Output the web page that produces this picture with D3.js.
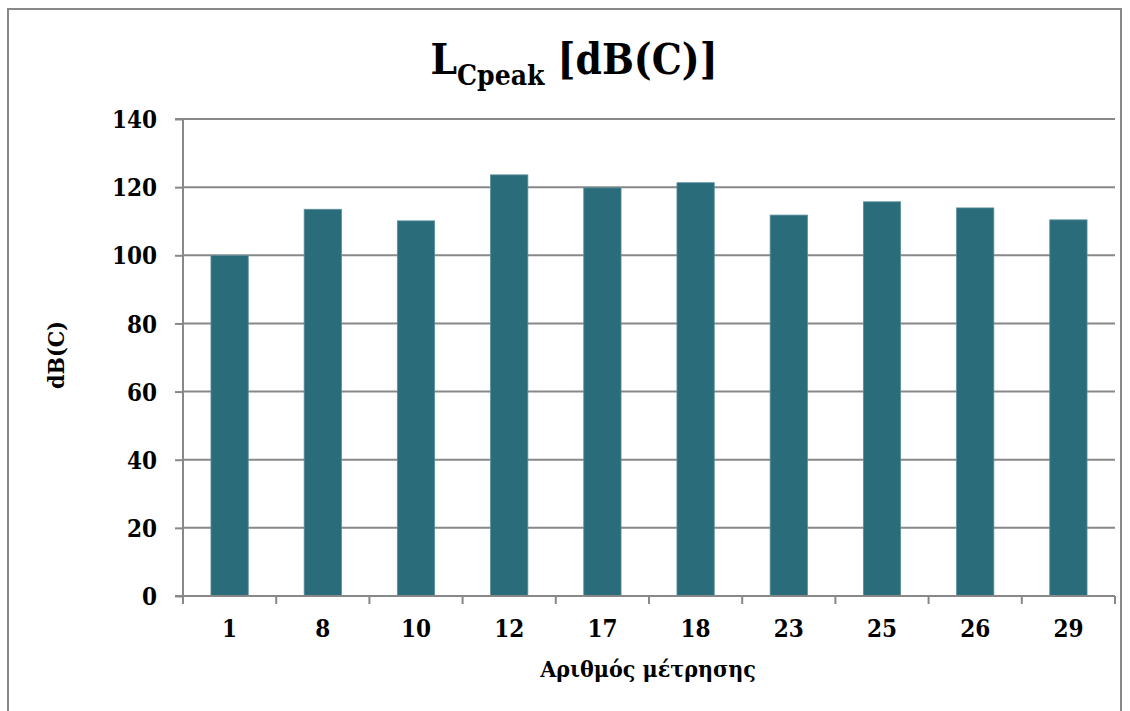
<!DOCTYPE html>
<html>
<head>
<meta charset="utf-8">
<script src="https://cdn.jsdelivr.net/npm/d3@7"></script>
<style>
  html, body { margin: 0; padding: 0; background: #fff; }
  svg { display: block; }
  text { font-family: "DejaVu Serif Condensed", "DejaVu Serif", serif; font-stretch: condensed; font-weight: bold; fill: #000; }
</style>
</head>
<body>
<svg id="chart" width="1130" height="711"></svg>
<script>
// Measurement numbers and their peak C-weighted levels
const categories = ["1", "8", "10", "12", "17", "18", "23", "25", "26", "29"];
const values = [99.9, 113.5, 110.1, 123.6, 119.8, 121.3, 111.8, 115.7, 113.9, 110.4];
const yTicks = [0, 20, 40, 60, 80, 100, 120, 140];

const svg = d3.select("#chart");
const W = 1130, H = 711;
const margin = { left: 183, right: 15, top: 119, bottom: 115 };
const plotW = W - margin.left - margin.right;
const plotH = H - margin.top - margin.bottom;

// outer frame
svg.append("rect")
  .attr("x", 8).attr("y", 9).attr("width", 1113).attr("height", 720)
  .attr("fill", "none").attr("stroke", "#888").attr("stroke-width", 2);

const g = svg.append("g").attr("transform", `translate(${margin.left},${margin.top})`);

const x = d3.scaleBand().domain(categories).range([0, plotW]).paddingInner(0.6).paddingOuter(0.3);
const xOuter = d3.scaleBand().domain(categories).range([0, plotW]);
const y = d3.scaleLinear().domain([0, 140]).range([plotH, 0]);

// horizontal gridlines
g.append("g").selectAll("line").data(yTicks.filter(d => d > 0)).join("line")
  .attr("x1", 0).attr("x2", plotW)
  .attr("y1", d => y(d)).attr("y2", d => y(d))
  .attr("stroke", "#888").attr("stroke-width", 2);

// bars
g.append("g").selectAll("rect").data(values).join("rect")
  .attr("x", (d, i) => x(categories[i]))
  .attr("width", x.bandwidth())
  .attr("y", d => y(d))
  .attr("height", d => plotH - y(d))
  .attr("fill", "#2B6C7B")
  .attr("stroke", "#5a8f9b").attr("stroke-width", 0.8);

// y axis
const yAxis = d3.axisLeft(y).tickValues(yTicks).tickSize(8).tickPadding(18);
const ya = g.append("g").call(yAxis);
ya.select(".domain").attr("stroke", "#888").attr("stroke-width", 2).attr("d", `M-8,0H0V${plotH}H-8`);
ya.selectAll(".tick line").attr("stroke", "#888").attr("stroke-width", 2);
ya.selectAll(".tick text").attr("font-size", 24).attr("font-family", null).attr("fill", "#000").attr("dy", "0.36em");

// x axis with ticks at category boundaries
const xa = g.append("g").attr("transform", `translate(0,${plotH})`);
xa.append("line").attr("x1", -8).attr("x2", plotW).attr("y1", 0).attr("y2", 0)
  .attr("stroke", "#888").attr("stroke-width", 2);
const bounds = categories.map(c => xOuter(c)).concat([plotW]);
xa.selectAll("line.tk").data(bounds).join("line").attr("class", "tk")
  .attr("x1", d => d).attr("x2", d => d).attr("y1", 0).attr("y2", 8)
  .attr("stroke", "#888").attr("stroke-width", 2);
xa.selectAll("text").data(categories).join("text")
  .attr("x", d => xOuter(d) + xOuter.bandwidth() / 2)
  .attr("y", 41)
  .attr("text-anchor", "middle")
  .attr("font-size", 24)
  .text(d => d);

// axis titles
svg.append("text")
  .attr("x", 648).attr("y", 677)
  .attr("text-anchor", "middle").attr("font-size", 23)
  .text("Αριθμός μέτρησης");

svg.append("text")
  .attr("transform", "translate(64,355) rotate(-90)")
  .attr("text-anchor", "middle").attr("font-size", 23)
  .text("dB(C)");

// chart title with subscript
const title = svg.append("text")
  .attr("x", 574).attr("y", 74)
  .attr("text-anchor", "middle").attr("font-size", 42);
title.append("tspan").text("L");
title.append("tspan").attr("font-size", 28).attr("dy", 11).text("Cpeak");
title.append("tspan").attr("dy", -11).text(" [dB(C)]");
</script>
</body>
</html>
